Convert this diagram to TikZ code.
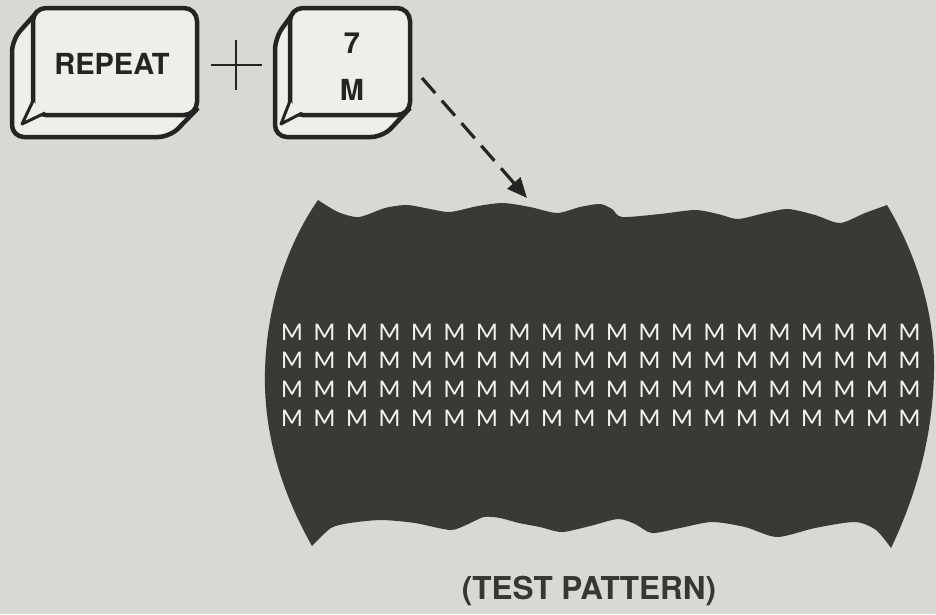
\documentclass[tikz,border=0pt]{standalone}
\usepackage{fontspec}
\setmainfont{TeX Gyre Heros}
\newfontfamily\screenfont{Carlito}
\usetikzlibrary{arrows.meta}

\definecolor{paper}{RGB}{217,216,211}
\definecolor{ink}{RGB}{36,36,34}
\definecolor{keywhite}{RGB}{238,238,234}
\definecolor{crt}{RGB}{57,58,54}
\definecolor{glow}{RGB}{244,244,240}

\tikzset{
  keybody/.style={fill=keywhite, draw=ink, line width=4.5pt, rounded corners=12pt, line join=round},
  keyface/.style={fill=keywhite, draw=ink, line width=4.5pt, rounded corners=13pt, inner sep=0pt},
  bevel/.style={draw=ink, line width=3pt, line join=round, fill=keywhite},
  keylabel/.style={text=ink, font=\bfseries\fontsize{29}{29}\selectfont, inner sep=0pt},
  mchar/.style={text=glow, font=\screenfont\fontsize{25.5}{25.5}\selectfont, inner sep=0pt},
  caption/.style={text=ink!90!paper, font=\bfseries\fontsize{31.5}{31.5}\selectfont, inner sep=0pt},
  plusline/.style={draw=ink, line width=2.4pt},
  pointer/.style={draw=ink, line width=3.2pt, dash pattern=on 20pt off 10pt,
    -{Triangle[length=20pt,width=17pt]}}
}

\begin{document}
\begin{tikzpicture}[x=1pt,y=-1pt]
  \fill[paper] (0,0) rectangle (936,614);
  \useasboundingbox (0,0) rectangle (936,614);

  % REPEAT key: body, top face, corner bevel, legend
  \path[keybody] (37,12) -- (12,40) -- (12,137) -- (170,137) -- (198,108);
  \node[keyface, minimum width=164pt, minimum height=107pt] (repeatkey) at (115,61.5) {};
  \path[bevel] (33,101) -- (22,124) -- (45,113);
  \node[keylabel] (repeatlabel) at (112,64) {REPEAT};

  % plus sign between the keys
  \coordinate (plusW) at (211,65);
  \coordinate (plusE) at (262,65);
  \coordinate (plusN) at (236,40);
  \coordinate (plusS) at (236,90);
  \draw[plusline] (plusW) -- (plusE);
  \draw[plusline] (plusN) -- (plusS);

  % 7/M key
  \path[keybody] (294,12) -- (275,38) -- (275,137) -- (383,137) -- (410,108);
  \node[keyface, minimum width=120pt, minimum height=107pt] (mkey) at (350,61.5) {};
  \path[bevel] (290,101) -- (281,124) -- (302,113);
  \node[keylabel] (sevenlabel) at (352,43) {7};
  \node[keylabel] (mlabel) at (352,90) {M};

  % screen fragment showing the test pattern
  \fill[crt] (318,200)
    -- plot[smooth, tension=0.45] coordinates {(318,200) (338,212) (359,217) (385,208) (407,205)
        (430,209) (450,212) (478,206) (503,203) (530,207) (557,213) (580,207) (600,204)
        (612,209) (622,217) (660,214) (695,210) (718,214) (738,219) (765,213) (788,209)
        (815,215) (840,223) (865,213) (887,205)}
    .. controls (914,250) and (935,310) .. (934,370)
    .. controls (933,440) and (914,500) .. (891,548)
    -- plot[smooth, tension=0.45] coordinates {(891,548) (876,530) (855,522) (815,528) (777,537)
        (745,527) (712,522) (680,528) (652,533) (635,524) (618,519) (590,526) (562,532)
        (540,527) (519,523) (500,518) (484,517) (466,525) (450,530) (415,523) (381,520)
        (350,523) (331,528) (312,546)}
    .. controls (286,500) and (263,440) .. (265,370)
    .. controls (267,300) and (290,240) .. cycle;

  \foreach \r in {0,...,3}
    \foreach \c in {0,...,19}
      \node[mchar] (m-\r-\c) at ({292+32.5*\c},{332+28.7*\r}) {M};

  % dashed pointer from the key to the screen
  \coordinate (pointerstart) at (422,78);
  \coordinate (screentop) at (527,198);
  \draw[pointer] (pointerstart) -- (screentop);

  \node[caption] (caption) at (589,591) {(TEST PATTERN)};
\end{tikzpicture}
\end{document}
